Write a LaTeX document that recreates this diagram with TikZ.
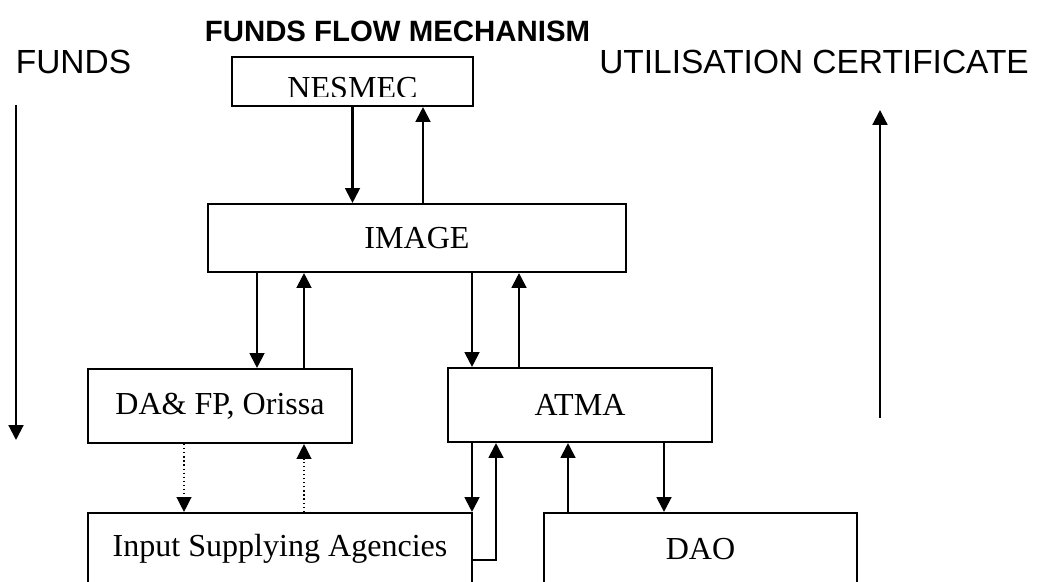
\documentclass[tikz,border=0pt]{standalone}
\usepackage{fontspec}
\setmainfont{Liberation Serif}
\setsansfont{Liberation Sans}
\usetikzlibrary{arrows.meta}

\begin{document}
\begin{tikzpicture}[
    box/.style={draw, line width=1.5pt, inner sep=0pt, font=\fontsize{22.8}{25}\selectfont},
    arr/.style={line width=1.5pt, -{Triangle[length=0.37cm,width=0.37cm]}},
    dotarr/.style={line width=0.9pt, dotted, -{Triangle[length=0.37cm,width=0.37cm]}},
    lbl/.style={font=\fontsize{23.8}{26}\sffamily}]
        \useasboundingbox (0,0) rectangle (26.125,14.55);
        \clip (0,0) rectangle (26.125,14.55);

        \node[font=\fontsize{20.9}{24}\sffamily\bfseries] (title) at (9.9375,13.775) {FUNDS FLOW MECHANISM};
        \node[lbl] (funds) at (1.8375,13.0) {FUNDS};
        \node[lbl] (uc) at (20.35,13.0) {UTILISATION CERTIFICATE};

        \node[box, minimum width=6.025cm, minimum height=1.225cm] (nesmec) at (8.8125,12.5125) {};
        \begin{scope}
            \clip (nesmec.north west) rectangle (26,12.14);
            \node[font=\fontsize{22.8}{25}\selectfont] (nesmectext) at (8.8125,12.36) {NESMEC};
        \end{scope}
        \node[box, minimum width=10.45cm, minimum height=1.7cm] (image) at (10.425,8.6) {IMAGE};
        \node[box, minimum width=6.6cm, minimum height=1.85cm] (dafp) at (5.5,4.4) {DA\& FP, Orissa};
        \node[box, minimum width=6.6cm, minimum height=1.85cm] (atma) at (14.5,4.425) {ATMA};
        \node[box, minimum width=9.6cm, minimum height=1.8cm] (input) at (7.0,0.825) {Input Supplying Agencies};
        \node[box, minimum width=7.825cm, minimum height=1.8cm] (dao) at (17.5125,0.825) {DAO};

        % side arrows
        \coordinate (fundstop) at (0.4,11.925);
        \coordinate (fundsbot) at (0.4,3.55);
        \coordinate (ucbot) at (22.0,4.1);
        \coordinate (uctop) at (22.0,11.8);
        \draw[arr] (fundstop) -- (fundsbot);
        \draw[arr] (ucbot) -- (uctop);

        % NESMEC and IMAGE
        \draw[arr] (nesmec.south) -- (nesmec.south |- image.north);
        \draw[arr] ([xshift=1.7625cm]nesmec.south |- image.north) -- ([xshift=1.7625cm]nesmec.south);

        % IMAGE and DA&FP / ATMA
        \draw[arr] ([xshift=0.925cm]dafp.north |- image.south) -- ([xshift=0.925cm]dafp.north);
        \draw[arr] ([xshift=2.1cm]dafp.north) -- ([xshift=2.1cm]dafp.north |- image.south);
        \draw[arr] ([xshift=-2.7cm]atma.north |- image.south) -- ([xshift=-2.7cm]atma.north);
        \draw[arr] ([xshift=-1.525cm]atma.north) -- ([xshift=-1.525cm]atma.north |- image.south);

        % DA&FP and input agencies
        \draw[dotarr] ([xshift=-0.9cm]dafp.south) -- ([xshift=-0.9cm]dafp.south |- input.north);
        \draw[dotarr] ([xshift=2.1cm]dafp.south |- input.north) -- ([xshift=2.1cm]dafp.south);

        % ATMA and input agencies / DAO
        \draw[arr] ([xshift=-2.7cm]atma.south) -- ([xshift=-2.7cm]atma.south |- input.north);
        \draw[arr] ([yshift=-0.275cm]input.east) -| ([xshift=-2.1cm]atma.south);
        \draw[arr] ([xshift=-0.3cm]atma.south |- dao.north) -- ([xshift=-0.3cm]atma.south);
        \draw[arr] ([xshift=2.1cm]atma.south) -- ([xshift=2.1cm]atma.south |- dao.north);
    \end{tikzpicture}
\end{document}
